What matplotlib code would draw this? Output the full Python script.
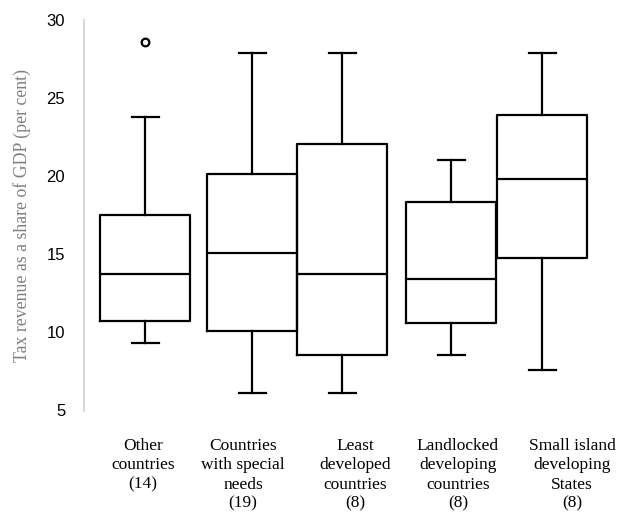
import matplotlib
matplotlib.use("Agg")
import matplotlib.pyplot as plt

# group labels and box statistics
groups = ["Other\ncountries\n(14)",
          "Countries\nwith special\nneeds\n(19)",
          "Least\ndeveloped\ncountries\n(8)",
          "Landlocked\ndeveloping\ncountries\n(8)",
          "Small island\ndeveloping\nStates\n(8)"]
whis_lo = [9.29, 6.10, 6.10, 8.53, 7.59]
q1 = [10.74, 10.08, 8.55, 10.61, 14.73]
median = [13.73, 15.05, 13.73, 13.41, 19.80]
q3 = [17.50, 20.12, 22.04, 18.35, 23.87]
whis_hi = [23.75, 27.88, 27.88, 21.02, 27.88]
fliers = [[28.58], [], [], [], []]

# layout: box centres and label centres (axis units)
box_pos = [0.61, 1.68, 2.58, 3.67, 4.58]
label_pos = [0.59, 1.59, 2.71, 3.74, 4.88]

stats = [dict(whislo=a, q1=b, med=c, q3=d, whishi=e, fliers=f)
         for a, b, c, d, e, f in zip(whis_lo, q1, median, q3, whis_hi, fliers)]

fig = plt.figure(figsize=(6.17, 5.14), dpi=100)
ax = fig.add_axes([84 / 617, (514 - 410.5) / 514, 533 / 617, 391 / 514])

lw = 1.6
ax.bxp(stats, positions=box_pos, widths=0.9, capwidths=0.27,
       boxprops=dict(color="black", linewidth=lw),
       medianprops=dict(color="black", linewidth=lw),
       whiskerprops=dict(color="black", linewidth=lw),
       capprops=dict(color="black", linewidth=lw),
       flierprops=dict(marker="o", markersize=5.5, markerfacecolor="white",
                       markeredgecolor="black", markeredgewidth=1.6))

ax.set_xlim(0, 5.33)
ax.set_ylim(5, 30)
ax.set_yticks([5, 10, 15, 20, 25, 30])
ax.set_xticks(label_pos)
ax.set_xticklabels(groups, family="Liberation Serif", fontsize=12.5,
                   linespacing=1.26, multialignment="center")
ax.tick_params(axis="x", length=0, pad=20)
ax.tick_params(axis="y", length=0, pad=13.5, labelsize=12)
for t in ax.get_yticklabels():
    t.set_family("Liberation Sans")

for s in ["top", "right", "bottom"]:
    ax.spines[s].set_visible(False)
ax.spines["left"].set_color("#d9d9d9")
ax.spines["left"].set_linewidth(1.5)

fig.text(22 / 617, (514 - 215) / 514, "Tax revenue as a share of GDP (per cent)",
         rotation=90, ha="center", va="center", family="Liberation Serif",
         fontsize=12.8, color="#7f7f7f")

fig.savefig("out.png", dpi=100)
